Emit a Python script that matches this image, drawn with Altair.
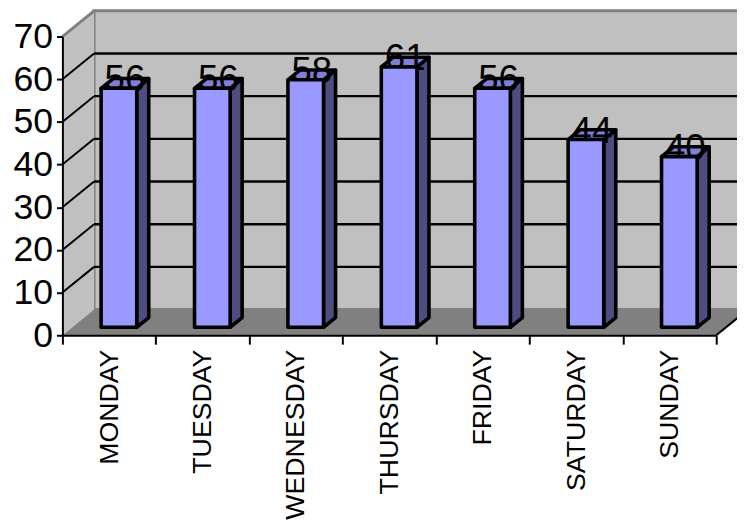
import altair as alt
import pandas as pd

# ---- data ----
DAYS = ["MONDAY", "TUESDAY", "WEDNESDAY", "THURSDAY", "FRIDAY", "SATURDAY", "SUNDAY"]
VALUES = [56, 56, 58, 61, 56, 44, 40]
Y_TICKS = [0, 10, 20, 30, 40, 50, 60, 70]
GRID = [10, 20, 30, 40, 50, 60]

# ---- geometry / style constants ----
W, H = 661, 302
N = len(DAYS)
YMAX = 70
PX_X = W / N          # pixels per category unit
PX_Y = H / YMAX       # pixels per value unit
DX = 32 / PX_X        # full 3D depth, x (data units)
DY = 26 / PX_Y        # full 3D depth, y (data units)
F1, F2 = 0.31, 0.69   # bar front / back depth fractions
HW = 18 / PX_X        # half bar width
FONT = "Liberation Sans"
BW = 3.6              # bar outline width

FRONT = "#9999FF"
TOP = "#7F7FD8"
SIDE = "#4D4D80"
WALL = "#C0C0C0"
FLOOR = "#808080"
EDGE = "#808080"

# ---- tables built from the arrays ----
front_rows, side_rows, top_rows = [], [], []
for i, (d, v) in enumerate(zip(DAYS, VALUES)):
    cx = i + 0.5 + F1 * DX
    xl, xr = cx - HW, cx + HW
    bdx, bdy = (F2 - F1) * DX, (F2 - F1) * DY
    y0 = F1 * DY
    front_rows.append(dict(day=d, x=xl, x2=xr, y=y0, y2=v + y0))
    side_rows.append(dict(day=d, x=xr, y=y0, y2=v + y0))
    side_rows.append(dict(day=d, x=xr + bdx, y=y0 + bdy, y2=v + y0 + bdy))
    top_rows.append(dict(day=d, y=v + y0, x=xl, x2=xr))
    top_rows.append(dict(day=d, y=v + y0 + bdy, x=xl + bdx, x2=xr + bdx))
front_df = pd.DataFrame(front_rows)
side_df = pd.DataFrame(side_rows)
top_df = pd.DataFrame(top_rows)

wall_df = pd.DataFrame([dict(x=DX, x2=N + DX, y=DY, y2=YMAX + DY)])
left_df = pd.DataFrame([dict(x=0, y=0, y2=YMAX), dict(x=DX, y=DY, y2=YMAX + DY)])
floor_df = pd.DataFrame([dict(y=0, x=0, x2=N), dict(y=DY, x=DX, x2=N + DX)])
back_grid_df = pd.DataFrame([dict(x=DX, x2=N + DX, y=g + DY, y2=g + DY) for g in GRID])
side_grid_df = pd.DataFrame([dict(x=0, x2=DX, y=g, y2=g + DY) for g in GRID])
side_top_df = pd.DataFrame([dict(x=0, x2=DX, y=YMAX, y2=YMAX + DY)])
floor_edge_df = pd.DataFrame([dict(x=N, x2=N + DX, y=0, y2=DY)])
label_df = pd.DataFrame({"day": DAYS, "value": VALUES})

XQ = alt.Scale(domain=[0, N], nice=False, zero=False)
YQ = alt.Scale(domain=[0, YMAX], nice=False, zero=False)
Y_AXIS = alt.Axis(values=Y_TICKS, title=None, grid=False, labelFontSize=36,
                  labelFont=FONT, labelColor="black", tickColor="black",
                  tickSize=6, tickWidth=2, domainColor="black", domainWidth=2,
                  labelPadding=4, zindex=1)


def xq(f):
    return alt.X(f, type="quantitative", scale=XQ, axis=None)


def yq(f):
    return alt.Y(f, type="quantitative", scale=YQ, axis=Y_AXIS)


wall = alt.Chart(wall_df).mark_rect(fill=WALL, stroke=EDGE, strokeWidth=3).encode(
    x=xq("x"), x2="x2", y=yq("y"), y2="y2")

left_wall = alt.Chart(left_df).mark_area(fill=WALL, orient="vertical").encode(
    x=xq("x"), y=yq("y"), y2="y2")

floor = alt.Chart(floor_df).mark_area(fill=FLOOR, orient="horizontal").encode(
    y=yq("y"), x=xq("x"), x2="x2")

back_grid = alt.Chart(back_grid_df).mark_rule(color="black", strokeWidth=2.4).encode(
    x=xq("x"), x2="x2", y=yq("y"), y2="y2")

side_grid = alt.Chart(side_grid_df).mark_rule(color="black", strokeWidth=2).encode(
    x=xq("x"), x2="x2", y=yq("y"), y2="y2")

side_top = alt.Chart(side_top_df).mark_rule(color=EDGE, strokeWidth=3).encode(
    x=xq("x"), x2="x2", y=yq("y"), y2="y2")

floor_edge = alt.Chart(floor_edge_df).mark_rule(color="black", strokeWidth=2).encode(
    x=xq("x"), x2="x2", y=yq("y"), y2="y2")

side = alt.Chart(side_df).mark_area(fill=SIDE, stroke="black", strokeWidth=BW,
                                    strokeJoin="round", orient="vertical").encode(
    x=xq("x"), y=yq("y"), y2="y2", detail="day:N")

top = alt.Chart(top_df).mark_area(fill=TOP, stroke="black", strokeWidth=BW,
                                  strokeJoin="round", orient="horizontal").encode(
    y=yq("y"), x=xq("x"), x2="x2", detail="day:N")

labels = alt.Chart(label_df).mark_text(font=FONT, fontSize=37, color="black",
                                       baseline="alphabetic", align="center",
                                       dx=16, dy=-5).encode(
    x=alt.X("day:N", sort=DAYS,
            scale=alt.Scale(type="band", paddingInner=0, paddingOuter=0),
            axis=alt.Axis(title=None, labelAngle=270, labelFontSize=27, labelFont=FONT,
                          labelColor="black", tickBand="extent", tickSize=9,
                          tickWidth=2, tickColor="black", domainColor="black",
                          domainWidth=2, labelPadding=5, zindex=1)),
    y=yq("value"),
    text="value:Q")

front = alt.Chart(front_df).mark_rect(fill=FRONT, stroke="black", strokeWidth=BW,
                                      strokeJoin="round").encode(
    x=xq("x"), x2="x2", y=yq("y"), y2="y2")

chart = alt.layer(
    wall, left_wall, floor, back_grid, side_grid, side_top, floor_edge,
    side, top, labels, front
).resolve_scale(x="independent").properties(
    width=W, height=H,
    autosize=alt.AutoSizeParams(type="none"),
    padding={"left": 55, "top": 26, "right": 21, "bottom": 193},
).configure_view(stroke=None).configure(background="white")

chart.save("out.html", embed_options={"renderer": "svg", "actions": False})
